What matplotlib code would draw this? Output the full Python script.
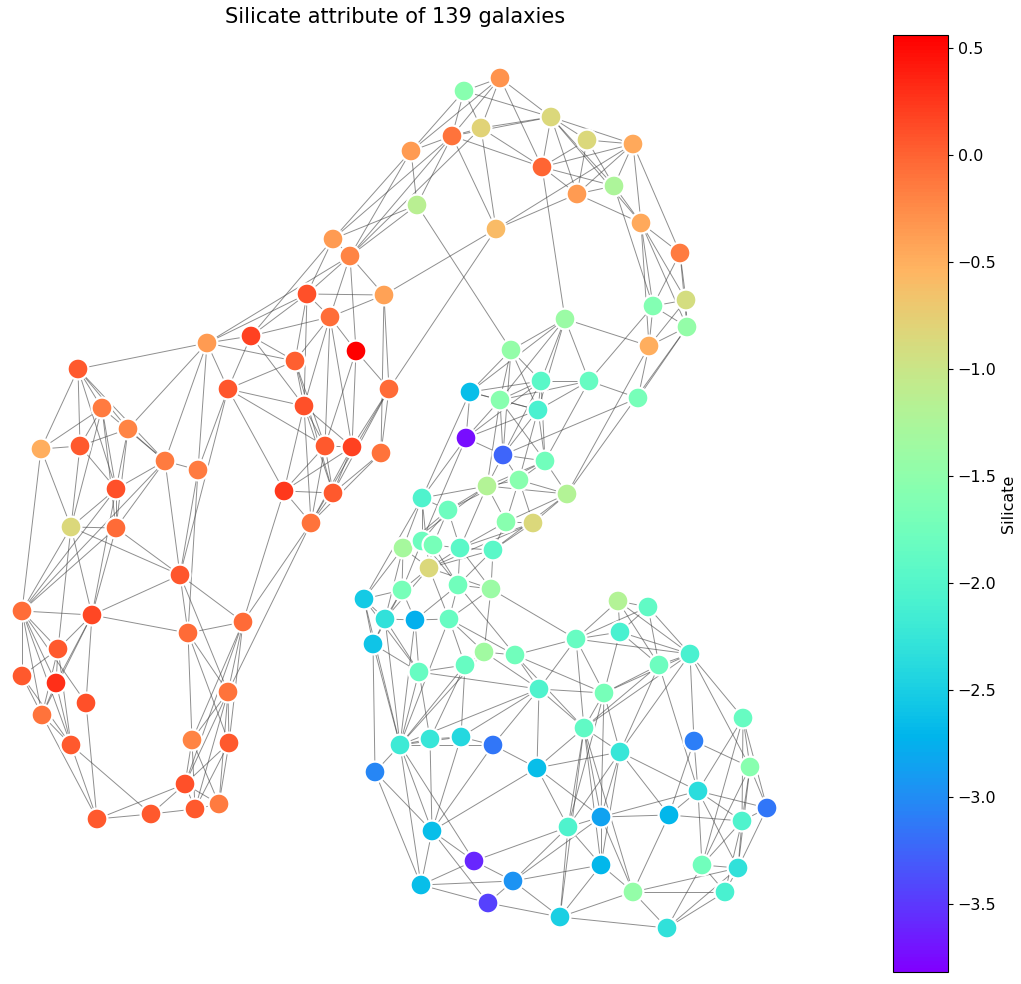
from matplotlib import pyplot as plt
from matplotlib.collections import LineCollection

# node positions, one row per galaxy
node_x = [78,102,128,41,80,165,198,116,116,71,180,22,92,58,188,243,22,56,86,42,71,228,192,229,185,219,195,151,97,
          207,251,228,295,304,330,307,333,350,384,356,389,325,352,381,284,333,311,
          464,500,411,452,481,551,587,633,542,577,614,417,496,641,680,653,686,687,649,565,511,
          589,541,638,470,500,538,466,503,545,487,519,567,422,448,506,533,403,422,433,460,493,429,402,458,491,364,385,415,449,373,
          618,648,620,576,690,515,484,465,419,659,539,604,743,584,694,400,430,461,493,620,537,750,375,698,767,601,669,568,742,432,474,601,702,738,513,421,633,725,488,560,667]
node_y = [369,408,429,449,446,461,470,489,528,527,575,611,615,649,633,622,676,683,703,715,745,692,740,743,784,804,809,814,819,
          343,336,389,361,406,317,294,239,256,295,351,389,446,447,453,491,493,523,
          91,78,151,136,128,117,140,144,167,194,186,205,229,223,253,306,300,327,346,319,350,
          381,381,398,392,400,410,438,455,461,486,480,494,498,510,522,523,548,541,545,548,550,568,590,585,589,599,619,620,619,644,
          601,607,632,639,654,655,652,665,672,665,689,693,718,728,741,745,739,737,745,752,768,767,772,791,808,817,815,827,821,831,861,865,865,868,881,885,892,892,903,917,928]
silicate = [0.05,-0.15,-0.2,-0.5,0.05,-0.15,-0.15,0.1,-0.05,-0.85,0.08,-0.07,0.15,0.05,-0.05,-0.05,0.05,0.3,0.1,-0.1,0.05,-0.1,-0.2,0.05,0.1,-0.15,0.05,0.05,0.05,
            -0.35,0.2,0.08,0.02,0.1,-0.07,0.1,-0.35,-0.2,-0.4,0.56,-0.05,0.05,0.2,-0.1,0.25,0.05,-0.1,
            -1.55,-0.3,-0.35,-0.1,-0.8,-0.85,-0.85,-0.45,-0.02,-0.35,-1.25,-1.15,-0.6,-0.45,-0.15,-1.6,-0.9,-1.45,-0.5,-1.4,-1.45,
            -1.85,-1.95,-1.7,-2.65,-1.55,-2.1,-3.75,-3.25,-1.75,-1.2,-1.55,-1.2,-2.05,-1.8,-1.55,-0.85,-1.3,-1.8,-1.7,-1.95,-1.95,-0.85,-1.7,-1.75,-1.4,-2.55,-2.3,-2.75,-1.85,-2.6,
            -1.2,-1.9,-2.1,-1.85,-2.1,-1.75,-1.35,-1.85,-1.85,-1.8,-2.05,-1.7,-1.85,-1.9,-3.1,-2.2,-2.25,-2.4,-3.15,-2.25,-2.65,-1.55,-3.05,-2.35,-3.15,-2.85,-2.7,-2.05,-2.05,-2.65,-3.6,-2.7,-1.75,-2.3,-2.95,-2.65,-1.45,-2.1,-3.45,-2.5,-2.3]

edges = [(0,29),(0,3),(0,4),(0,1),(0,2),(0,5),(0,7),(3,1),(3,9),(3,11),(3,4),(4,1),(4,9),(4,7),(4,2),(1,5),(1,7),(1,8),(1,9),
         (2,5),(2,29),(2,7),(2,8),(5,29),(5,6),(5,7),(5,8),(5,10),(5,11),(6,29),(6,31),(6,10),(6,14),(7,9),(7,8),(7,12),(7,11),
         (8,9),(8,10),(8,11),(8,12),(9,11),(9,12),(9,10),(9,13),(10,12),(10,14),(10,21),(10,15),(11,12),(11,13),(11,16),(11,17),
         (11,18),(11,19),(11,20),(12,13),(12,14),(12,17),(12,18),(12,19),(13,16),(13,20),(13,19),(13,17),(16,19),(16,20),(17,19),
         (17,20),(18,28),(19,28),(19,20),(20,28),(20,27),(14,15),(14,22),(14,21),(14,23),(15,21),(15,22),(15,23),(15,24),(15,46),
         (15,44),(21,22),(21,23),(21,24),(21,25),(21,26),(21,46),(22,24),(22,25),(22,26),(23,24),(23,25),(23,26),(24,26),(24,27),
         (24,25),(25,26),(26,27),(27,28),(24,28),
         (29,30),(29,31),(29,35),(29,32),(29,37),(30,31),(30,32),(30,35),(30,34),(30,33),(30,36),(31,32),(31,33),(31,41),(31,44),
         (31,10),(32,34),(32,33),(32,41),(32,35),(32,45),(33,35),(33,34),(33,41),(33,42),(33,44),(33,45),(33,46),(34,35),(34,37),
         (34,38),(34,39),(34,41),(34,42),(35,36),(35,37),(35,38),(36,37),(36,49),(36,58),(36,50),(37,38),(37,39),(37,49),(37,50),
         (37,58),(38,40),(38,43),(38,59),(39,40),(39,42),(39,41),(40,59),(40,42),(40,43),(40,45),(40,46),(41,42),(41,44),(41,45),
         (41,46),(42,45),(42,46),(42,44),(43,45),(43,46),(44,45),(44,46),(45,46),
         (47,48),(47,49),(47,50),(47,51),(47,52),(48,49),(48,50),(48,51),(48,52),(48,55),(49,50),(49,58),(50,51),(50,52),(50,55),
         (50,58),(50,59),(51,52),(51,55),(51,37),(51,59),(52,53),(52,54),(52,55),(52,56),(52,57),(52,60),(53,54),(53,55),(53,56),
         (53,57),(54,55),(54,56),(54,57),(54,59),(54,60),(54,61),(55,56),(55,57),(55,66),(56,57),(56,59),(56,60),(57,60),(57,62),
         (60,61),(60,62),(60,63),(60,64),(60,65),(61,62),(61,63),(61,64),(62,63),(62,64),(62,65),(63,64),(63,65),(64,65),(65,70),
         (66,67),(66,68),(66,69),(66,72),(66,71),(66,73),(67,58),(67,71),(67,69),(67,72),(67,73),(67,75),(62,68),(65,79),(64,70),
         (64,79),(66,65),
         (68,69),(68,70),(68,72),(68,73),(68,76),(69,71),(69,72),(69,73),(69,74),(69,75),(69,76),(70,75),(71,72),(71,74),(71,73),
         (71,80),(72,73),(72,74),(72,75),(72,76),(72,77),(73,74),(73,75),(73,76),(73,78),(74,75),(74,80),(74,85),(75,76),(75,77),
         (75,78),(76,77),(76,78),(76,79),(76,81),(77,78),(77,79),(77,80),(77,81),(77,82),(77,84),(77,87),(78,79),(78,82),(78,83),
         (79,82),(79,83),(79,88),(80,81),(80,84),(80,85),(80,89),(80,93),(81,84),(81,85),(81,86),(81,87),(82,83),(82,87),(82,88),
         (83,87),(83,89),(83,88),(84,85),(84,89),(84,90),(84,93),(84,94),(85,86),(85,90),(85,91),(86,87),(86,89),(86,91),(87,88),
         (87,89),(87,91),(87,92),(88,89),(88,92),(88,91),(89,90),(89,94),(89,96),(89,92),(90,93),(90,94),(90,95),(90,97),(91,92),
         (91,95),(91,96),(91,103),(92,96),(92,101),(92,104),(93,94),(93,97),(93,106),(93,113),(94,97),(94,95),(94,106),(94,113),
         (95,96),(95,113),(95,106),(96,103),(96,104),(96,105),(96,113),(97,113),(97,120),(97,106),
         (106,108),(106,105),(106,113),(106,114),(105,104),(105,113),(105,114),(105,115),(104,103),(104,113),(103,101),(103,108),
         (103,111),(103,109),(104,108),(101,98),(101,99),(101,100),(101,102),(101,109),(101,108),(101,111),(98,99),(98,100),
         (98,102),(98,107),(99,100),(99,102),(99,107),(100,102),(100,107),(100,109),(102,107),(102,109),(102,110),(102,112),
         (102,117),(102,111),(102,119),(107,109),(107,111),(107,117),(107,121),(108,111),(108,109),(108,116),(108,118),(108,113),
         (108,115),(109,111),(109,117),(109,125),(109,123),(111,117),(111,118),(111,123),(111,125),(111,129),(111,137),(111,134),
         (117,118),(117,123),(117,124),(117,121),(117,125),(117,129),(118,123),(118,125),(118,127),(116,118),(113,114),(113,115),
         (113,116),(114,115),(115,116),(113,120),(113,127),(113,133),(113,128),(114,127),(115,127),(116,127),(120,127),(120,133),
         (127,128),(127,136),(127,133),(128,132),(128,133),(128,125),(133,132),(133,136),(132,136),(132,123),(132,125),(132,129),
         (132,137),(136,137),(125,137),(129,137),(129,134),(123,129),(123,124),(123,121),(123,134),(124,121),(124,134),(124,112),
         (124,126),(125,123),(125,129),(134,135),(134,131),(134,137),(134,138),(137,138),(138,135),(138,130),(138,131),(112,121),
         (112,119),(110,119),(110,122),(110,126),(110,130),(110,121),(119,122),(119,126),(119,131),(119,130),(121,122),(121,126),
         (121,130),(121,131),(122,126),(122,131),(126,131),(126,130),(126,135),(130,131),(130,135),(131,135)]

fig = plt.figure(figsize=(10.21, 9.84), dpi=100)
ax = fig.add_axes([0, 0, 1, 1])
ax.set_xlim(0, 1021)
ax.set_ylim(984, 0)
ax.axis("off")

segments = [[(node_x[a], node_y[a]), (node_x[b], node_y[b])] for a, b in edges]
ax.add_collection(LineCollection(segments, colors="#444444", linewidths=0.7, alpha=0.6, zorder=1))

nodes = ax.scatter(node_x, node_y, c=silicate, cmap="rainbow", vmin=-3.82, vmax=0.56,
                   s=225, edgecolors="white", linewidths=1.6, zorder=2)

fig.text(395 / 1021, 1 - 17 / 984, "Silicate attribute of 139 galaxies", fontsize=15, ha="center", va="center")

cax = fig.add_axes([893 / 1021, 1 - 972 / 984, 55 / 1021, 937 / 984])
cbar = fig.colorbar(nodes, cax=cax)
cbar.set_ticks([0.5, 0, -0.5, -1, -1.5, -2, -2.5, -3, -3.5])
cbar.ax.tick_params(labelsize=11.5)
cbar.set_label("Silicate", fontsize=11.5, labelpad=3)

plt.savefig("out.png", dpi=100)
